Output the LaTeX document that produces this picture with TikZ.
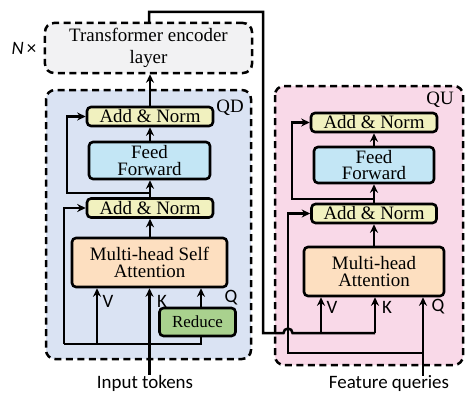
\documentclass[tikz,border=0pt]{standalone}
\usepackage{fontspec}
\setmainfont{Liberation Serif}
\newfontfamily\carl{Carlito}
\usetikzlibrary{arrows.meta,calc}
\definecolor{tfill}{HTML}{F2F2F3}
\definecolor{qdfill}{HTML}{DAE3F3}
\definecolor{qufill}{HTML}{F9D9E8}
\definecolor{anfill}{HTML}{F1F1BF}
\definecolor{fffill}{HTML}{C3E6F5}
\definecolor{atfill}{HTML}{FDDFC0}
\definecolor{rdfill}{HTML}{A9D18E}
\begin{document}
\begin{tikzpicture}[x=1bp,y=1bp,
  box/.style={draw=black, line width=2.6bp, rounded corners=4bp, inner sep=0pt, align=center, font=\fontsize{19}{17}\selectfont},
  anbox/.style={box, fill=anfill, minimum width=126bp, minimum height=19bp},
  ffbox/.style={box, fill=fffill, minimum width=121bp, minimum height=37bp},
  atbox/.style={box, fill=atfill, minimum height=49bp},
  rdbox/.style={box, fill=rdfill, minimum width=76bp, minimum height=28bp, font=\fontsize{17}{18}\selectfont},
  grp/.style={draw=black, line width=2.5bp, dash pattern=on 7bp off 4.5bp, rounded corners=9bp},
  conn/.style={line width=2.5bp},
  arr/.style={conn, -{Stealth[length=8.5bp,width=8bp]}},
  lbl/.style={font=\carl\fontsize{19}{20}\selectfont, inner sep=0pt},
  grplbl/.style={font=\fontsize{19}{20}\selectfont, inner sep=0pt},
]
\useasboundingbox (0,0) rectangle (465,394);
% groups
\draw[grp, fill=qdfill] (46,304) rectangle (251,35);
\draw[grp, fill=qufill] (275,308) rectangle (463,29);
\node[box, grp, fill=tfill, minimum width=207bp, minimum height=50bp, inner sep=0pt, font=\fontsize{19}{22}\selectfont] (tr) at (148.5,346) {Transformer encoder\\layer};
\node[lbl, font=\carl\itshape\fontsize{19}{20}\selectfont] (nx) at (24,346) {N\,\upshape×};
\node[grplbl] (qdl) at (230,286) {QD};
\node[grplbl] (qul) at (440,294) {QU};
% QD nodes
\node[anbox] (dan2) at (150,277.5) {Add \& Norm};
\node[ffbox] (dff) at (149.5,233.5) {Feed\\Forward};
\node[anbox] (dan1) at (150,186) {Add \& Norm};
\node[atbox, minimum width=155bp] (dat) at (149.5,131.5) {Multi-head Self\\Attention};
\node[rdbox] (red) at (197.5,72) {Reduce};
% QU nodes
\node[anbox] (uan2) at (374,271.5) {Add \& Norm};
\node[ffbox, minimum width=120bp, minimum height=36bp] (uff) at (374,229) {Feed\\Forward};
\node[anbox, minimum width=125bp] (uan1) at (374,180.5) {Add \& Norm};
\node[atbox, minimum width=140bp] (uat) at (374,122.5) {Multi-head\\Attention};
% texts
\node[lbl] (inp) at (145,11) {Input tokens};
\node[lbl] (fq) at (389,10) {Feature queries};
\node[lbl] (dv) at (108,93) {V};
\node[lbl] (dk) at (162,93) {K};
\node[lbl] (dq) at (231,96) {Q};
\node[lbl] (uv) at (332,87) {V};
\node[lbl] (uk) at (387,87) {K};
\node[lbl] (uq) at (438,87) {Q};
% QD connectors
\coordinate (dbl) at (64,50);
\coordinate (dvb) at (97,50);
\coordinate (drb) at (201,50);
\draw[arr] (inp.north -| dat.south) -- (dat.south);
\draw[conn] (dbl) -- (drb) -- (drb |- red.south);
\draw[arr] (dvb) -- (dvb |- dat.south);
\draw[arr] (drb |- red.north) -- (drb |- dat.south);
\draw[arr] (dbl) -- (dbl |- dan1.west) -- (dan1.west);
\draw[arr] (dat.north -| dan1.south) -- (dan1.south);
\draw[arr] (dan1.north) -- (dan1.north |- dff.south);
\draw[arr] (150,201) -- (67,201) -- (67,277.5) -- (dan2.west);
\draw[arr] (dff.north -| dan2.south) -- (dan2.south);
\draw[arr] (dan2.north) -- (dan2.north |- tr.south);
% long connector from transformer to QU
\draw[conn] (149,371) -- (149,382) -- (263,382) -- (263,61) -- (283.5,61) arc[start angle=180, end angle=0, radius=4.5] -- (375,61);
\draw[arr] (375,61) -- (375,0 |- uat.south);
\draw[arr] (321,61) -- (321,0 |- uat.south);
% QU connectors
\draw[arr] (fq.north -| 423,0) -- (423,0 |- uat.south);
\draw[arr] (423,41) -- (288,41) -- (288,180.5) -- (uan1.west);
\draw[arr] (uat.north) -- (uan1.south);
\draw[arr] (uan1.north) -- (uff.south);
\draw[arr] (374,195) -- (292,195) -- (292,271.5) -- (uan2.west);
\draw[arr] (uff.north) -- (uan2.south);
\end{tikzpicture}
\end{document}
